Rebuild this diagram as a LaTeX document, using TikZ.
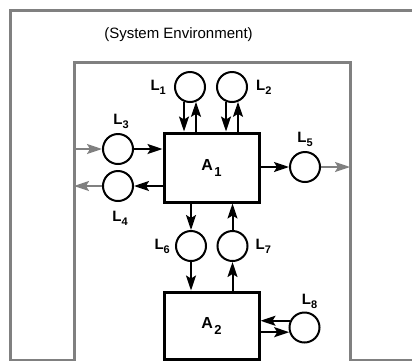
\documentclass[tikz,border=0pt]{standalone}
\usepackage{fontspec}
\setmainfont{Liberation Sans}[BoldFont=Liberation Sans Bold]
\usepackage{xcolor}
\usepackage{tikz}
\usetikzlibrary{arrows.meta,positioning,calc}
\definecolor{framegray}{RGB}{128,128,128}
\newcommand{\lname}[1]{L{\fontsize{11}{11}\selectfont\raisebox{-4pt}{#1}}}
\newcommand{\aname}[1]{A\kern1.5pt{\fontsize{13}{13}\selectfont\raisebox{-6pt}{#1}}}

\begin{document}
\begin{tikzpicture}[
    x=1pt, y=-1pt,
    node distance=4pt,
    frame/.style={rectangle, draw=framegray, line width=3pt, inner sep=0pt, outer sep=0pt},
    agent/.style={rectangle, draw, fill=white, line width=3pt, inner sep=0pt,
        minimum width=95pt, font=\fontsize{16}{16}\selectfont\bfseries},
    port/.style={circle, draw, line width=2pt, minimum size=30pt, inner sep=0pt},
    tag/.style={inner sep=0pt, font=\fontsize{15}{15}\selectfont\bfseries},
    edge/.style={-{Stealth[length=15pt,width=10pt,inset=3pt]}, line width=2pt},
    leak/.style={edge, color=framegray}
]
    \useasboundingbox (0,0) rectangle (412,360);
    \clip (0,0) rectangle (412,360);

    \node[frame, minimum width=430pt, minimum height=350pt, anchor=north west] (env) at (10,10) {};
    \node[font=\fontsize{15}{15}\selectfont] (title) at (178.5,35) {(System Environment)};
    \node[frame, fill=white, minimum width=276pt, minimum height=330pt, anchor=north west] (sys) at (74,62) {};

    \node[agent, minimum height=69pt] (a1) at (211.5,167.5) {\aname{1}};
    \node[agent, minimum height=67pt] (a2) at (211.5,325.5) {\aname{2}};

    \node[port] (l1) at (190,87) {};
    \node[port] (l2) at (232,87) {};
    \node[port] (l3) at (118,149) {};
    \node[port] (l4) at (118,186) {};
    \node[port] (l5) at (305,167) {};
    \node[port] (l6) at (191,246) {};
    \node[port] (l7) at (232.5,246) {};
    \node[port] (l8) at (304.5,327.5) {};

    \node[tag, left=8pt of l1] (t1) {\lname{1}};
    \node[tag, right=8pt of l2] (t2) {\lname{2}};
    \node[tag, above=4pt of l3, xshift=3pt] (t3) {\lname{3}};
    \node[tag, below=9pt of l4, xshift=2pt] (t4) {\lname{4}};
    \node[tag, above=4pt of l5] (t5) {\lname{5}};
    \node[tag, left=5pt of l6] (t6) {\lname{6}};
    \node[tag, right=7pt of l7] (t7) {\lname{7}};
    \node[tag, above=3pt of l8, xshift=5pt] (t8) {\lname{8}};

    \draw[edge] (l1.248) -- (l1.248 |- a1.north);
    \draw[edge] (l1.292 |- a1.north) -- (l1.292);
    \draw[edge] (l2.248) -- (l2.248 |- a1.north);
    \draw[edge] (l2.292 |- a1.north) -- (l2.292);

    \draw[leak] (sys.west |- l3) -- (l3);
    \draw[edge] (l3) -- (l3 -| a1.west);
    \draw[edge] (l4 -| a1.west) -- (l4);
    \draw[leak] (l4) -- (l4 -| sys.west);
    \draw[edge] (l5 -| a1.east) -- (l5);
    \draw[leak] (l5) -- (l5 -| sys.east);

    \draw[edge] (l6 |- a1.south) -- (l6);
    \draw[edge] (l6) -- (l6 |- a2.north);
    \draw[edge] (l7 |- a2.north) -- (l7);
    \draw[edge] (l7) -- (l7 |- a1.south);

    \draw[edge] (l8.155) -- (l8.155 -| a2.east);
    \draw[edge] (l8.197 -| a2.east) -- (l8.197);
\end{tikzpicture}
\end{document}
